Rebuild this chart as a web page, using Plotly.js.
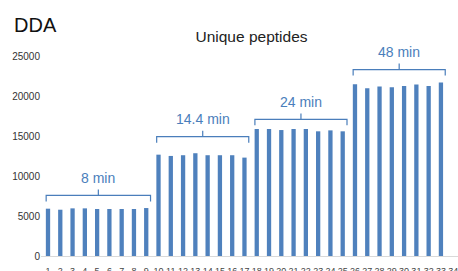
<!DOCTYPE html>
<html>
<head>
<meta charset="utf-8">
<script src="https://cdn.plot.ly/plotly-3.0.1.min.js"></script>
<style>html,body{margin:0;padding:0;background:#fff;}#chart{width:458px;height:271px;}</style>
</head>
<body>
<div id="chart"></div>
<script>
// ---- data ----
const runLabels = ["1","2","3","4","5","6","7","8","9","10","11","12","13","14","15","16","17","18","19","20","21","22","23","24","25","26","27","28","29","30","31","32","33","34"];
const uniquePeptides = [5940, 5810, 5980, 5980, 5900, 5900, 5900, 5900, 6020,
  12720, 12560, 12650, 12900, 12650, 12650, 12650, 12350,
  15940, 15940, 15810, 15940, 15940, 15650, 15770, 15650,
  21560, 21060, 21270, 21190, 21350, 21520, 21350, 21780,
  null];
const groupLabels = ["8 min", "14.4 min", "24 min", "48 min"];
const groupFirstRun = [1, 10, 18, 26];
const groupLastRun = [9, 17, 25, 33];
const bracketLevel = [7600, 14975, 17150, 23400];
const yTickVals = [0, 5000, 10000, 15000, 20000, 25000];

// ---- build ----
const xs = runLabels.map((_, i) => i + 1);
const blue = '#4f81bd';
const bracketColor = '#4a7ebb';
const drop = 750;

const shapes = [];
const annotations = [];
groupLabels.forEach((lab, g) => {
  const x0 = groupFirstRun[g] - 0.15;
  const x1 = groupLastRun[g] + 0.35;
  const xm = (x0 + x1) / 2;
  const y = bracketLevel[g];
  shapes.push({
    type: 'path', xref: 'x', yref: 'y',
    path: `M ${x0},${y - drop} L ${x0},${y} L ${x1},${y} L ${x1},${y - drop} M ${xm},${y} L ${xm},${y + drop}`,
    line: {color: bracketColor, width: 1.2}
  });
  annotations.push({
    x: xm, y: y + 2200, xref: 'x', yref: 'y', text: lab, showarrow: false,
    xanchor: 'center', yanchor: 'middle',
    font: {family: 'Liberation Sans, Arial, sans-serif', size: 14, color: bracketColor}
  });
});
annotations.push({
  xref: 'paper', yref: 'paper', x: -0.07, y: 0.965, xanchor: 'left', yanchor: 'middle',
  text: 'DDA', showarrow: false,
  font: {family: 'Liberation Sans, Arial, sans-serif', size: 20, color: '#111'}
});

const trace = {
  type: 'bar', x: xs, y: uniquePeptides, width: 0.35,
  marker: {color: blue, line: {width: 0}},
  hoverinfo: 'none'
};

const layout = {
  width: 458, height: 271,
  margin: {l: 41, r: 0, t: 16.5, b: 14.5, pad: 0},
  paper_bgcolor: '#fff', plot_bgcolor: '#fff',
  showlegend: false,
  title: {
    text: 'Unique peptides', x: 251.5 / 458, xanchor: 'center', xref: 'container',
    y: 1 - 36.5 / 271, yanchor: 'middle', yref: 'container',
    font: {family: 'Liberation Sans, Arial, sans-serif', size: 15.5, color: '#222'}
  },
  xaxis: {
    range: [0.43, 34.39], tickmode: 'array', tickvals: xs, ticktext: runLabels,
    showgrid: false, zeroline: false, showline: true, linecolor: '#d9d9d9', linewidth: 1,
    ticks: '', ticklabelstandoff: 6, automargin: false, tickangle: 0,
    ticklabeloverflow: 'allow',
    tickfont: {family: 'Liberation Sans, Arial, sans-serif', size: 9, color: '#444'}
  },
  yaxis: {
    range: [0, 30000], tickmode: 'array', tickvals: yTickVals,
    ticktext: yTickVals.map(String),
    showgrid: false, zeroline: false, showline: false, ticks: '', automargin: false,
    tickfont: {family: 'Liberation Sans, Arial, sans-serif', size: 10, color: '#333'}
  },
  shapes: shapes,
  annotations: annotations
};

Plotly.newPlot('chart', [trace], layout, {displayModeBar: false, staticPlot: true});
</script>
</body>
</html>
